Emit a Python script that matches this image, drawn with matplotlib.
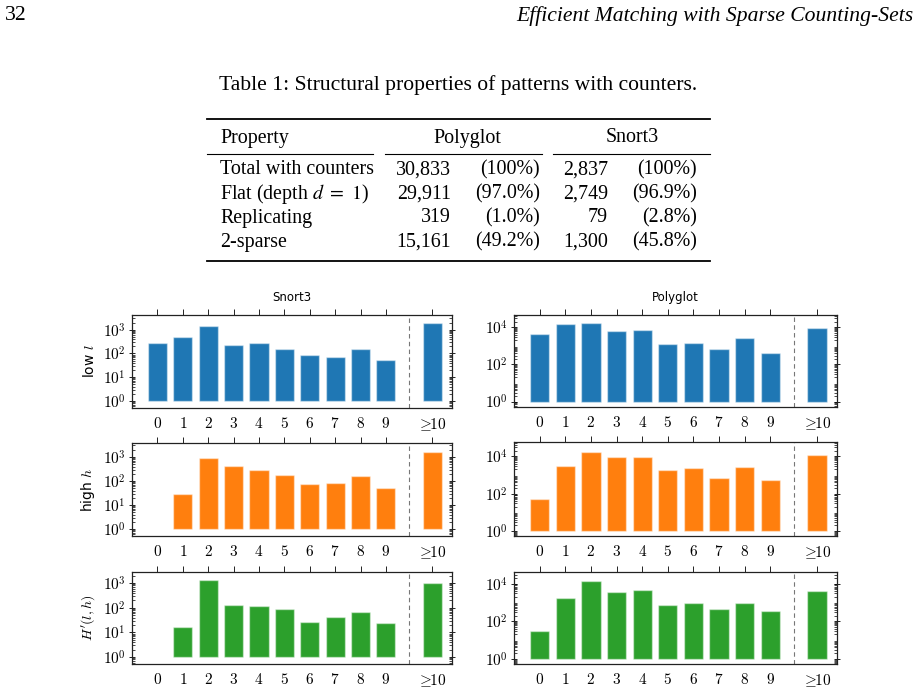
import numpy as np
import matplotlib
matplotlib.use('agg')
import matplotlib.pyplot as plt
from matplotlib.lines import Line2D
from matplotlib.ticker import FixedLocator, LogLocator, NullFormatter

plt.rcParams['mathtext.fontset'] = 'cm'
plt.rcParams['font.family'] = ['DejaVu Sans']

# ---- data ----
categories = ['0', '1', '2', '3', '4', '5', '6', '7', '8', '9', r'\geq\!\!10']

snort_low = [265, 490, 1380, 218, 274, 152, 82, 68, 152, 54, 1860]
poly_low = [4370, 15100, 16500, 6330, 7200, 1220, 1380, 655, 2560, 415, 9600]
snort_high = [0, 29, 910, 418, 275, 182, 76, 81, 160, 50, 1660]
poly_high = [49, 3150, 17800, 9600, 9200, 1900, 2240, 700, 2760, 570, 11800]
snort_hprime = [0, 17, 1290, 124, 120, 89, 27, 43, 65, 24, 975]
poly_hprime = [29, 1820, 13800, 3470, 4460, 690, 910, 437, 985, 360, 4100]

table_props = ['Total with counters', r'Flat (depth $d\ =\ 1$)', 'Replicating', '2-sparse']
poly_counts = ['30,833', '29,911', '319', '15,161']
poly_pct = ['(100%)', '(97.0%)', '(1.0%)', '(49.2%)']
snort_counts = ['2,837', '2,749', '79', '1,300']
snort_pct = ['(100%)', '(96.9%)', '(2.8%)', '(45.8%)']

W, H = 919, 692
fig = plt.figure(figsize=(W / 100, H / 100), dpi=100)

def fx(x):
    return x / W

def fy(y):
    return 1 - y / H

serif = ['Liberation Serif', 'DejaVu Serif']
page_fs = 15.6
tab_fs = 14.4

# page header
fig.text(fx(5), fy(16), '32', family=serif, fontsize=page_fs, va='center', ha='left')
fig.text(fx(913), fy(16), 'Efficient Matching with Sparse Counting-Sets', family=serif,
         style='italic', fontsize=page_fs, va='center', ha='right')

# ---- table ----
fig.text(fx(458), fy(85), 'Table 1: Structural properties of patterns with counters.',
         family=serif, fontsize=page_fs, va='center', ha='center')

def hline(x0, x1, y, lw):
    fig.add_artist(Line2D([fx(x0), fx(x1)], [fy(y), fy(y)], color='black', lw=lw,
                          transform=fig.transFigure))

hline(207, 710, 119, 1.3)
hline(207, 373, 154, 0.8)
hline(385, 542, 154, 0.8)
hline(553, 710, 154, 0.8)
hline(207, 710, 261, 1.3)

fig.text(fx(220), fy(138), 'Property', family=serif, fontsize=tab_fs, va='center', ha='left')
fig.text(fx(467), fy(138), 'Polyglot', family=serif, fontsize=tab_fs, va='center', ha='center')
fig.text(fx(632), fy(138), 'Snort3', family=serif, fontsize=tab_fs, va='center', ha='center')

row_y = [170, 194, 218, 242]
for i, y in enumerate(row_y):
    fig.text(fx(220), fy(y), table_props[i], family=serif, fontsize=tab_fs, va='center',
             ha='left', math_fontfamily='stix')
    fig.text(fx(451), fy(y), poly_counts[i], family=serif, fontsize=tab_fs, va='center', ha='right')
    fig.text(fx(540), fy(y), poly_pct[i], family=serif, fontsize=tab_fs, va='center', ha='right')
    fig.text(fx(608), fy(y), snort_counts[i], family=serif, fontsize=tab_fs, va='center', ha='right')
    fig.text(fx(697), fy(y), snort_pct[i], family=serif, fontsize=tab_fs, va='center', ha='right')

# ---- bar charts ----
xpos = np.array(list(range(10)) + [10.82])
panels = [
    # (values, color, ylabel, title, box (l, t, r, b), ylim exponents, major ticks)
    (snort_low, '#1f77b4', r'low $l$', 'Snort3', (132, 315, 452, 408), (-0.3, 3.62), [0, 1, 2, 3]),
    (poly_low, '#1f77b4', None, 'Polyglot', (514, 315, 837, 407), (-0.29, 4.66), [0, 2, 4]),
    (snort_high, '#ff7f0e', r'high $h$', None, (132, 443, 452, 536), (-0.29, 3.58), [0, 1, 2, 3]),
    (poly_high, '#ff7f0e', None, None, (514, 442, 837, 536), (-0.27, 4.77), [0, 2, 4]),
    (snort_hprime, '#2ca02c', r"$H'(l,h)$", None, (132, 572, 452, 664), (-0.28, 3.45), [0, 1, 2, 3]),
    (poly_hprime, '#2ca02c', None, None, (514, 572, 837, 664), (-0.28, 4.62), [0, 2, 4]),
]

for vals, color, ylabel, title, box, ylim, majors in panels:
    l, t, r, b = box
    ax = fig.add_axes([fx(l), fy(b), fx(r) - fx(l), (b - t) / H])
    vals = np.array(vals, dtype=float)
    mask = vals > 0
    ax.bar(xpos[mask], vals[mask] - 1, bottom=1, width=0.75, color=color,
           edgecolor=(1, 1, 1, 0.45), linewidth=1.0)
    ax.set_yscale('log')
    ax.set_ylim(10 ** ylim[0], 10 ** ylim[1])
    ax.set_xlim(-1.0, 11.6)
    ax.axvline(9.91, color='#777777', linestyle=(0, (4, 3)), lw=0.8)

    ax.yaxis.set_major_locator(FixedLocator([10.0 ** e for e in majors]))
    ax.set_yticklabels([r'$10^{%d}$' % e for e in majors])
    ax.yaxis.set_minor_locator(LogLocator(base=10, subs=np.arange(2, 10), numticks=20))
    ax.yaxis.set_minor_formatter(NullFormatter())
    ax.tick_params(axis='y', which='major', left=True, right=True, direction='inout',
                   length=5, width=0.6, labelsize=11, pad=2)
    ax.tick_params(axis='y', which='minor', left=True, right=True, direction='in',
                   length=2.5, width=0.5)

    ax.set_xticks(xpos)
    ax.set_xticklabels(['$%s$' % c for c in categories])
    ax.tick_params(axis='x', bottom=False, top=True, labelbottom=True, labeltop=False,
                   direction='out', length=4, width=0.6, labelsize=11, pad=2)

    for sp in ax.spines.values():
        sp.set_linewidth(0.9)
        sp.set_color('#222222')

    if ylabel:
        ax.set_ylabel(ylabel, fontsize=10, labelpad=4)
    if title:
        ax.set_title(title, fontsize=8.5, pad=10)

plt.savefig('out.png', dpi=100)
